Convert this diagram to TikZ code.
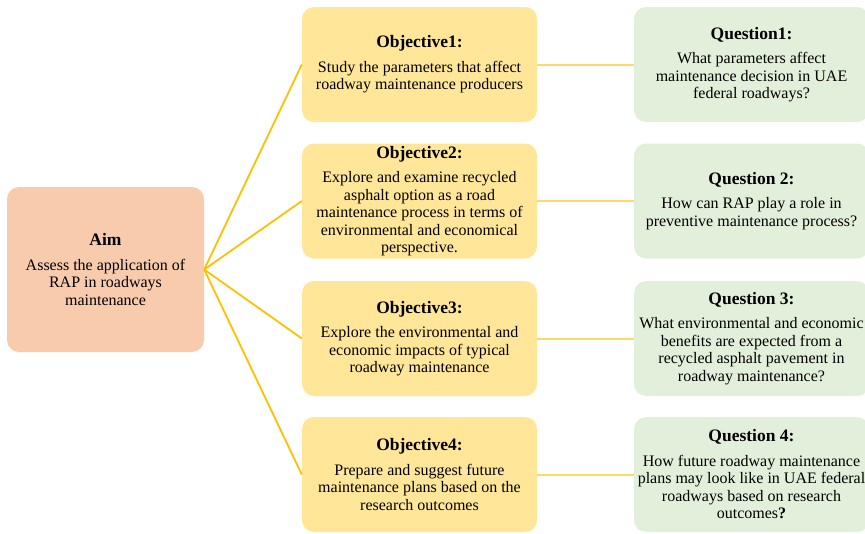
\documentclass[tikz,border=0pt]{standalone}
\usepackage{fontspec}
\setmainfont{Liberation Serif}
\usetikzlibrary{positioning}
\definecolor{aimColor}{RGB}{248,203,173}
\definecolor{objectiveColor}{RGB}{255,230,153}
\definecolor{questionColor}{RGB}{226,239,218}
\definecolor{branchColor}{RGB}{255,192,0}
\definecolor{linkColor}{RGB}{255,217,102}
\tikzstyle{chart} = [x = 1pt, y = -1pt]
\tikzstyle{boxStyle} = [rectangle, rounded corners = 12pt, align = center, inner sep = 2pt, font = \fontsize{16}{17.5}\selectfont]
\tikzstyle{aimStyle} = [boxStyle, fill=aimColor, minimum width = 197pt, minimum height = 165pt]
\tikzstyle{objectiveStyle} = [boxStyle, fill=objectiveColor, minimum width = 235pt, minimum height = 115pt]
\tikzstyle{questionStyle} = [boxStyle, fill=questionColor, minimum width = 235pt, minimum height = 115pt]
\tikzstyle{branchLine} = [color=branchColor, line width = 1.8pt]
\tikzstyle{linkLine} = [color=linkColor, line width = 2pt]
\newcommand{\boxTitle}[1]{{\fontsize{17.5}{20}\selectfont\bfseries #1}\\[7pt]}
\newcommand{\objectiveBox}[3]{\node [objectiveStyle] (objective#1) at (419.5, #2) {\boxTitle{Objective#1:}#3};}
\newcommand{\questionBox}[4]{\node [questionStyle] (question#1) at (751.5, #2) {\boxTitle{#3}#4};}

\begin{document}
\begin{tikzpicture}[chart]
          \useasboundingbox (0,0) rectangle (865,533);
          \clip (0,0) rectangle (865,533);
          \node [aimStyle] (aim) at (105.5, 269.5) {\boxTitle{Aim}Assess the application of\\RAP in roadways\\maintenance};

          \objectiveBox{1}{64.5}{Study the parameters that affect\\roadway maintenance producers}
          \objectiveBox{2}{201}{Explore and examine recycled\\asphalt option as a road\\maintenance process in terms of\\environmental and economical\\perspective.}
          \objectiveBox{3}{338.5}{Explore the environmental and\\economic impacts of typical\\roadway maintenance}
          \objectiveBox{4}{474.5}{Prepare and suggest future\\maintenance plans based on the\\research outcomes}

          \questionBox{1}{64.5}{Question1:}{What parameters affect\\maintenance decision in UAE\\federal roadways?}
          \questionBox{2}{201}{Question 2:}{How can RAP play a role in\\preventive maintenance process?}
          \questionBox{3}{338.5}{Question 3:}{What environmental and economic\\benefits are expected from a\\recycled asphalt pavement in\\roadway maintenance?}
          \questionBox{4}{474.5}{Question 4:}{How future roadway maintenance\\plans may look like in UAE federal\\roadways based on research\\outcomes\textbf{?}}

          \foreach \row in {1,...,4} {
            \draw [branchLine] (aim.east) -- (objective\row.west);
            \draw [linkLine] (objective\row.east) -- (question\row.west);
          }
        \end{tikzpicture}
\end{document}
